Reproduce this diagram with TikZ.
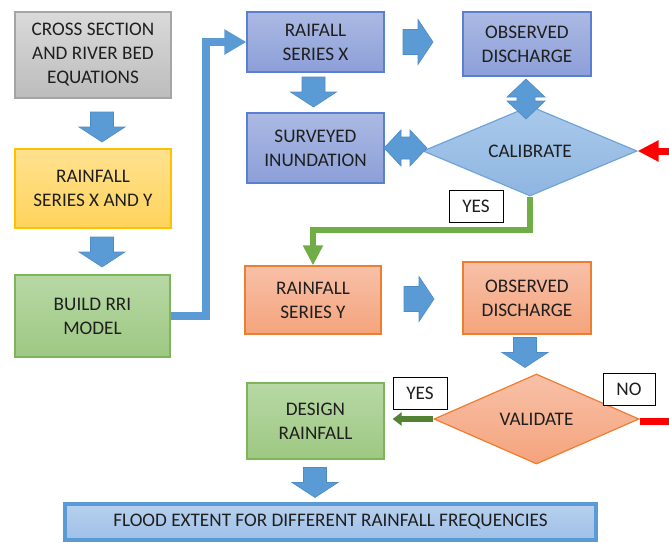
\documentclass[tikz,border=0pt]{standalone}
\usepackage{fontspec}
\setmainfont{Carlito}
\usetikzlibrary{shapes.geometric,arrows.meta,calc}
\definecolor{txt}{HTML}{1F1F1F}
\definecolor{grayT}{HTML}{DADADA}
\definecolor{grayB}{HTML}{BCBCBC}
\definecolor{grayD}{HTML}{A5A5A5}
\definecolor{yelT}{HTML}{FFE18F}
\definecolor{yelB}{HTML}{FFD35C}
\definecolor{yelD}{HTML}{FFC000}
\definecolor{grnT}{HTML}{B8D8A5}
\definecolor{grnB}{HTML}{9DC882}
\definecolor{grnD}{HTML}{7FB55A}
\definecolor{bluT}{HTML}{ABB9E3}
\definecolor{bluB}{HTML}{8C9FD8}
\definecolor{bluD}{HTML}{5B7FD0}
\definecolor{orT}{HTML}{F8C0A8}
\definecolor{orB}{HTML}{F4A47C}
\definecolor{orD}{HTML}{ED7D31}
\definecolor{calT}{HTML}{A9C9EA}
\definecolor{calB}{HTML}{8FB6E1}
\definecolor{calD}{HTML}{6FA4DA}
\definecolor{flT}{HTML}{B7D0EE}
\definecolor{flB}{HTML}{9FC0E8}
\definecolor{flD}{HTML}{5B9BD5}
\definecolor{barrow}{HTML}{5B9BD5}
\definecolor{barrowD}{HTML}{4E8CC8}
\definecolor{gline}{HTML}{70AD47}
\definecolor{dgline}{HTML}{548235}
\tikzset{
  blockarrow/.style={fill=barrow, draw=barrowD, line width=0.6pt},
  downarr/.pic={\path[blockarrow] (-11.5,-15) -- (11.5,-15) -- (11.5,0) -- (23,0) -- (0,15) -- (-23,0) -- (-11.5,0) -- cycle;},
  rightarr/.pic={\path[blockarrow] (-15,-12.5) -- (0,-12.5) -- (0,-22.5) -- (15,0) -- (0,22.5) -- (0,12.5) -- (-15,12.5) -- cycle;},
  lrdouble/.pic={\path[blockarrow] (-21.5,0) -- (-4.5,-18) -- (-4.5,-11) -- (4.5,-11) -- (4.5,-18) -- (21.5,0) -- (4.5,18) -- (4.5,11) -- (-4.5,11) -- (-4.5,18) -- cycle;},
  uddouble/.pic={\path[blockarrow] (0,-20) -- (19,-2) -- (9,-2) -- (9,2) -- (19,2) -- (0,20) -- (-19,2) -- (-9,2) -- (-9,-2) -- (-19,-2) -- cycle;},
}
\begin{document}
\begin{tikzpicture}[x=1pt,y=-1pt,
  font=\fontsize{19.2}{24}\selectfont,
  box/.style={draw, line width=1.2pt, text=txt, align=center, inner sep=0pt},
  graybox/.style={box, draw=grayD, top color=grayT, bottom color=grayB},
  yelbox/.style={box, draw=yelD, top color=yelT, bottom color=yelB},
  grnbox/.style={box, draw=grnD, top color=grnT, bottom color=grnB},
  blubox/.style={box, draw=bluD, top color=bluT, bottom color=bluB},
  orbox/.style={box, draw=orD, top color=orT, bottom color=orB},
  diam/.style={box, diamond, aspect=2.4},
  tag/.style={draw=black, line width=0.8pt, fill=white, text=txt, inner sep=0pt, minimum width=54, minimum height=32},
  bconn/.style={draw=barrow, line width=8pt, -{Triangle[length=22pt,width=24pt]}},
  gconn/.style={draw=gline, line width=6pt, -{Triangle[length=20pt,width=19pt]}},
  dgconn/.style={draw=dgline, line width=6pt, -{Triangle[length=9pt,width=13pt]}},
  rconn/.style={draw=red, line width=7pt},
]
\useasboundingbox[fill=white] (0,0) rectangle (669,543);

% left column
\node[graybox, minimum width=156, minimum height=86] (cs) at (93,55) {CROSS SECTION\\AND RIVER BED\\EQUATIONS};
\node[yelbox, minimum width=156, minimum height=79] (rxy) at (93,188.5) {RAINFALL\\SERIES X AND Y};
\node[grnbox, minimum width=155, minimum height=82] (build) at (92.5,316) {BUILD RRI\\MODEL};

% upper (calibration) block
\node[blubox, minimum width=137, minimum height=60] (rsx) at (315.5,42) {RAIFALL\\SERIES X};
\node[blubox, minimum width=128, minimum height=64] (obs1) at (527,44) {OBSERVED\\DISCHARGE};
\node[blubox, minimum width=137, minimum height=70] (surv) at (315.5,148) {SURVEYED\\INUNDATION};
\node[diam, draw=calD, top color=calT, bottom color=calB, minimum width=214, minimum height=90] (cal) at (530,151) {CALIBRATE};

% lower (validation) block
\node[orbox, minimum width=136, minimum height=68] (rsy) at (313,300) {RAINFALL\\SERIES Y};
\node[orbox, minimum width=128, minimum height=72] (obs2) at (527,298) {OBSERVED\\DISCHARGE};
\node[diam, draw=orD, top color=orT, bottom color=orB, minimum width=205, minimum height=90] (val) at (536.5,419) {VALIDATE};
\node[grnbox, minimum width=137, minimum height=76] (design) at (315.5,421) {DESIGN\\RAINFALL};

% final box
\node[box, draw=flD, line width=4pt, top color=flT, bottom color=flB, minimum width=531, minimum height=36] (flood) at (330.5,522) {FLOOD EXTENT FOR DIFFERENT RAINFALL FREQUENCIES};

% block arrows
\pic at (102,127) {downarr};
\pic at (102,252) {downarr};
\pic at (313.5,92) {downarr};
\pic at (418,42) {rightarr};
\pic at (419,299) {rightarr};
\pic at (525,352.5) {downarr};
\pic at (315,482.5) {downarr};
\pic at (405.5,148) {lrdouble};
\pic at (526,99) {uddouble};

% connectors
\coordinate (bturn) at (206,42);
\draw[bconn] (build.east) -| (bturn) -- (rsx.west);
\coordinate (gturn) at (313,230);
\draw[gconn] (cal.south) |- (gturn) -- (rsy.north);
\coordinate (redin) at (669,151);
\draw[rconn, -{Triangle[length=21pt,width=20pt]}] (redin) -- (cal.east);
\coordinate (redout) at (669,421);
\draw[rconn] (val.east |- redout) -- (redout);
\draw[dgconn] (val.west) -- ($(design.east)+(8,-2)$);

% labels
\node[tag] (yes1) at (476,206.5) {YES};
\node[tag] (yes2) at (420,393) {YES};
\node[tag, minimum width=52] (no) at (629,389) {NO};
\end{tikzpicture}
\end{document}
